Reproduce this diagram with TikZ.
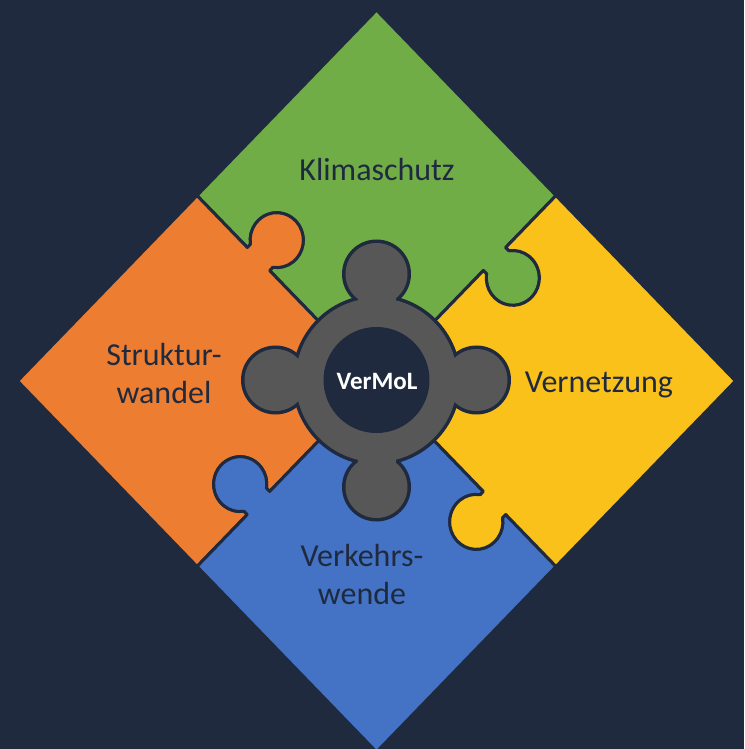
\documentclass[tikz,border=0pt]{standalone}
\usepackage{fontspec}
\setmainfont{Carlito}
\definecolor{bg}{HTML}{1F2A3F}
\definecolor{pgreen}{HTML}{70AD47}
\definecolor{porange}{HTML}{ED7D31}
\definecolor{pyellow}{HTML}{FBC11B}
\definecolor{pblue}{HTML}{4472C4}
\definecolor{pgray}{HTML}{575757}
% seam from edge midpoint inward to the centre (knob on local -y side)
\newcommand\seamIn[1]{-- ([rotate=#1]50.9,0) -- ([rotate=#1]50.9,-1.25)
  arc[start angle={53.5+(#1)}, end angle={-233.5+(#1)}, radius=7.4]
  -- ([rotate=#1]42.1,0) -- (0,0)}
% seam from the centre outward to the edge midpoint
\newcommand\seamOut[1]{-- ([rotate=#1]42.1,0) -- ([rotate=#1]42.1,-1.25)
  arc[start angle={126.5+(#1)}, end angle={413.5+(#1)}, radius=7.4]
  -- ([rotate=#1]50.9,0) -- ([rotate=#1]70.71,0)}
\newcommand\ringparts[1]{%
  \path[#1] (0,0) circle[x radius=81, y radius=82];
  \path[#1] (-19,0) rectangle (19,106);
  \path[#1] (-19,0) rectangle (19,-107);
  \path[#1] (0,-19) rectangle (100,19);
  \path[#1] (0,-19) rectangle (-101,19);
  \path[#1] (0,106) circle[radius=31];
  \path[#1] (0,-107) circle[radius=31];
  \path[#1] (100,0) circle[radius=31];
  \path[#1] (-101,0) circle[radius=31];
}
\tikzset{
  piece/.style={draw=bg, line width=3pt, line join=round},
  lbl/.style={text=bg, font=\fontsize{32}{38}\selectfont, align=center, inner sep=0pt},
}
\begin{document}
\begin{tikzpicture}
\useasboundingbox (0,0) rectangle (744pt,-749pt);
\fill[bg] (0,0) rectangle (744pt,-749pt);
\begin{scope}[shift={(376.5pt,-381pt)}, x=3.59pt, y=3.59pt, yscale=1.0334]
  \path[piece, fill=pgreen]  (0,100)  -- (45:70.71)  \seamIn{45}  \seamOut{135} -- cycle;
  \path[piece, fill=porange] (-100,0) -- (135:70.71) \seamIn{135} \seamOut{225} -- cycle;
  \path[piece, fill=pblue]   (0,-100) -- (225:70.71) \seamIn{225} \seamOut{315} -- cycle;
  \path[piece, fill=pyellow] (100,0)  -- (315:70.71) \seamIn{315} \seamOut{45}  -- cycle;
\end{scope}
\begin{scope}[shift={(376.5pt,-380pt)}, x=1pt, y=1pt]
  \ringparts{draw=bg, line width=7pt}
  \ringparts{fill=pgray}
  \path[fill=bg, draw=bg, line width=1pt] (0,0) circle[radius=52.5];
\end{scope}
\node[lbl, anchor=base] (klima) at (377pt,-180pt) {Klimaschutz};
\node[lbl, anchor=base] (vernetzung) at (599pt,-392pt) {Vernetzung};
\node[lbl] (struktur) at (164pt,-374pt) {Struktur-\\wandel};
\node[lbl] (verkehr) at (362pt,-574pt) {Verkehrs-\\wende};
\node[text=white, font=\bfseries\fontsize{25}{30}\selectfont, anchor=base, inner sep=0pt] (vermol) at (377pt,-389pt) {VerMoL};
\end{tikzpicture}
\end{document}
